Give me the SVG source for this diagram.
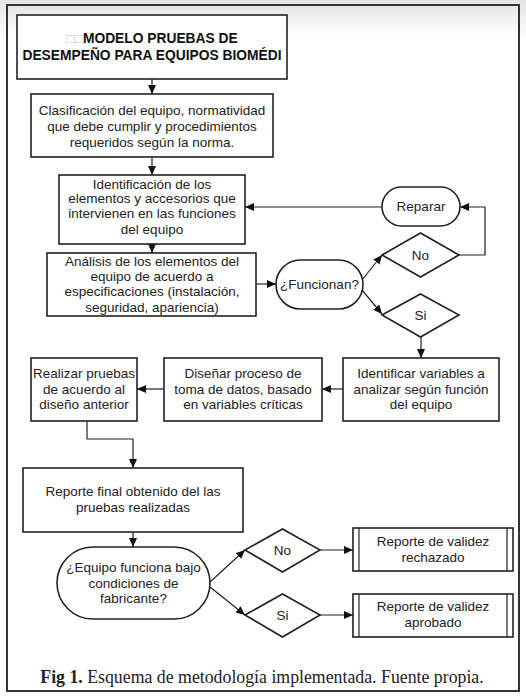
<svg xmlns="http://www.w3.org/2000/svg" width="526" height="697" viewBox="0 0 526 697">
<defs>
<linearGradient id="bg" x1="0" y1="0" x2="0" y2="1">
<stop offset="0" stop-color="#e4e4e4"/>
<stop offset="0.06" stop-color="#ffffff"/>
<stop offset="1" stop-color="#ffffff"/>
</linearGradient>
<linearGradient id="inner" x1="0" y1="0" x2="0" y2="1">
<stop offset="0" stop-color="#e6e6e6"/>
<stop offset="1" stop-color="#ffffff"/>
</linearGradient>
<marker id="ah" markerWidth="9" markerHeight="8" refX="9" refY="4" orient="auto" markerUnits="userSpaceOnUse">
<path d="M0,0 L9,4 L0,8 Z" fill="#111"/>
</marker>
<style>
.box{fill:#fff;stroke:#222;stroke-width:1.6}
.t{font-family:"Liberation Sans",Arial,sans-serif;font-size:13.5px;fill:#222;text-anchor:middle}
.tb{font-family:"Liberation Sans",Arial,sans-serif;font-size:13.8px;font-weight:bold;fill:#111;text-anchor:middle}
.c{fill:none;stroke:#222;stroke-width:1.2}
.ca{fill:none;stroke:#222;stroke-width:1.2;marker-end:url(#ah)}
</style>
</defs>
<rect x="0" y="0" width="526" height="697" fill="url(#bg)"/>
<rect x="7" y="5" width="512" height="686" fill="#fff" stroke="#333" stroke-width="2"/>
<rect x="8" y="6" width="510" height="28" fill="url(#inner)"/>

<g id="connectors">
<path class="ca" d="M152,79 V94"/>
<path class="ca" d="M152,157 V175"/>
<path class="ca" d="M152,244 V253"/>
<path class="ca" d="M256,284 H276"/>
<path class="ca" d="M362,280 L382,255"/>
<path class="ca" d="M362,290 L382,314"/>
<path class="ca" d="M459,255 H485 V207 H460"/>
<path class="ca" d="M382,207 H245"/>
<path class="ca" d="M421,337 V358"/>
<path class="ca" d="M343,389 H322"/>
<path class="ca" d="M164,389 H137"/>
<path class="ca" d="M87,421 V439 H133 V468"/>
<path class="ca" d="M133,532 V547"/>
<path class="ca" d="M210,582 L245,550"/>
<path class="ca" d="M210,587 L245,615"/>
<path class="ca" d="M320,550 H353"/>
<path class="ca" d="M320,615 H353"/>
</g>

<g id="titulo">
<rect class="box" x="17" y="15" width="270" height="64"/>
<text class="tb" x="152" y="43"><tspan fill="#ccc" font-weight="normal">□□</tspan>MODELO PRUEBAS DE</text>
<text class="tb" x="152" y="60">DESEMPEÑO PARA EQUIPOS BIOMÉDI</text>
</g>

<g id="clasificacion">
<rect class="box" x="31" y="94" width="242" height="63"/>
<text class="t" x="152" y="115">Clasificación del equipo, normatividad</text>
<text class="t" x="152" y="131">que debe cumplir y procedimientos</text>
<text class="t" x="152" y="147">requeridos según la norma.</text>
</g>

<g id="identificacion">
<rect class="box" x="59" y="175" width="186" height="69"/>
<text class="t" x="152" y="189">Identificación de los</text>
<text class="t" x="152" y="203">elementos y accesorios que</text>
<text class="t" x="152" y="218">intervienen en las funciones</text>
<text class="t" x="152" y="234">del equipo</text>
</g>

<g id="analisis">
<rect class="box" x="47" y="253" width="209" height="63"/>
<text class="t" x="152" y="266">Análisis de los elementos del</text>
<text class="t" x="152" y="281">equipo de acuerdo a</text>
<text class="t" x="152" y="296">especificaciones (instalación,</text>
<text class="t" x="152" y="312">seguridad, apariencia)</text>
</g>

<g id="funcionan">
<rect class="box" x="276" y="260" width="87" height="49" rx="24.5"/>
<text class="t" x="319.5" y="289">¿Funcionan?</text>
</g>

<g id="no1">
<polygon class="box" points="382,255 420.5,233 459,255 420.5,277"/>
<text class="t" x="420.5" y="260">No</text>
</g>

<g id="si1">
<polygon class="box" points="382,315 420.5,294 459,315 420.5,337"/>
<text class="t" x="420.5" y="320">Si</text>
</g>

<g id="reparar">
<rect class="box" x="382" y="187" width="78" height="39" rx="19.5"/>
<text class="t" x="421" y="211">Reparar</text>
</g>

<g id="identificar">
<rect class="box" x="343" y="358" width="156" height="63"/>
<text class="t" x="421" y="378">Identificar variables a</text>
<text class="t" x="421" y="394">analizar según función</text>
<text class="t" x="421" y="409">del equipo</text>
</g>

<g id="disenar">
<rect class="box" x="164" y="358" width="158" height="63"/>
<text class="t" x="243" y="378">Diseñar proceso de</text>
<text class="t" x="243" y="394">toma de datos, basado</text>
<text class="t" x="243" y="409">en variables críticas</text>
</g>

<g id="realizar">
<rect class="box" x="31" y="358" width="106" height="63"/>
<text class="t" x="84" y="378">Realizar pruebas</text>
<text class="t" x="84" y="394">de acuerdo al</text>
<text class="t" x="84" y="409">diseño anterior</text>
</g>

<g id="reporte">
<rect class="box" x="23" y="468" width="220" height="64"/>
<text class="t" x="133" y="496">Reporte final obtenido del las</text>
<text class="t" x="133" y="512">pruebas realizadas</text>
</g>

<g id="equipo">
<rect class="box" x="57" y="547" width="153" height="72" rx="36"/>
<text class="t" x="133.5" y="572">¿Equipo funciona bajo</text>
<text class="t" x="133.5" y="588">condiciones de</text>
<text class="t" x="133.5" y="603">fabricante?</text>
</g>

<g id="no2">
<polygon class="box" points="245,550 282.5,529 320,550 282.5,572"/>
<text class="t" x="282.5" y="555">No</text>
</g>

<g id="si2">
<polygon class="box" points="245,615 282.5,594 320,615 282.5,637"/>
<text class="t" x="282.5" y="620">Si</text>
</g>

<g id="rechazado">
<rect class="box" x="353" y="528" width="160" height="43"/>
<line class="c" x1="359" y1="528" x2="359" y2="571"/>
<line class="c" x1="507" y1="528" x2="507" y2="571"/>
<text class="t" x="433" y="546">Reporte de validez</text>
<text class="t" x="433" y="562">rechazado</text>
</g>

<g id="aprobado">
<rect class="box" x="353" y="594" width="160" height="43"/>
<line class="c" x1="359" y1="594" x2="359" y2="637"/>
<line class="c" x1="507" y1="594" x2="507" y2="637"/>
<text class="t" x="433" y="611">Reporte de validez</text>
<text class="t" x="433" y="627">aprobado</text>
</g>

<text x="262" y="683" font-family="'Liberation Serif','Times New Roman',serif" font-size="17.8" fill="#222" text-anchor="middle"><tspan font-weight="bold">Fig 1.</tspan> Esquema de metodología implementada. Fuente propia.</text>
</svg>
